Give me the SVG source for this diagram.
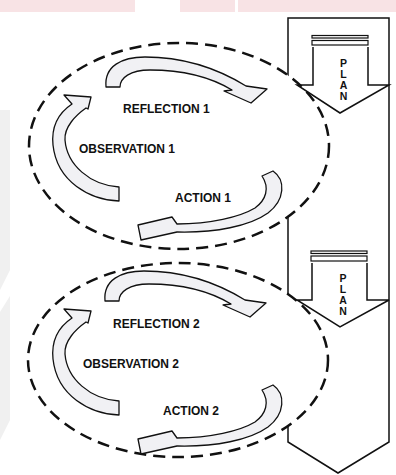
<svg xmlns="http://www.w3.org/2000/svg" width="396" height="475" viewBox="0 0 396 475">
<style>
.ln{fill:none;stroke:#111;stroke-width:1.5;stroke-linejoin:miter}
.col{fill:#fff;stroke:#111;stroke-width:1.5}
.ell{fill:#fff;stroke:#111;stroke-width:2.5;stroke-dasharray:12 7}
.arr{fill:#f1f1f4;stroke:#111;stroke-width:1.3;stroke-linejoin:round}
.lbl{font-family:"Liberation Sans",Arial,sans-serif;font-weight:bold;font-size:12px;fill:#111}
.pl{font-family:"Liberation Sans",Arial,sans-serif;font-weight:bold;font-size:10.5px;fill:#111;text-anchor:middle}
.bar{fill:#fff;stroke:#111;stroke-width:1.2}
.wm{fill:#f0f0f0}
</style>
<defs>
<path id="aTop" d="M106,87 C104,66 122,57 145,57 C185,57 220,70 246,86 L267,89 L251,103 L224,91 L232,90 C212,78 185,70 150,70 C130,70 120,78 120,87 Z"/>
<path id="aLeft" d="M119,187 L119,201 C90,200 57,182 53,145 C51,125 60,112 72,104 L64,95 L91,97 L88,109 L86,108 C76,115 64,127 65,140 C67,165 90,185 119,187 Z"/>
<path id="aBot" d="M262,176 L273,171 C286,180 285,200 268,213 C250,226 215,233 177,232 L141,240 L138,225 L172,217 L177,224 C210,224 240,217 255,208 C266,200 270,188 262,176 Z"/>
</defs>
<rect x="0" y="0" width="396" height="475" fill="#fff"/>
<g id="watermark">
<rect x="0" y="0" width="135" height="12" fill="#f8e3e5"/>
<rect x="180" y="0" width="55" height="12" fill="#f8e3e5"/>
<rect x="238" y="0" width="158" height="12" fill="#f8e3e5"/>
<polygon class="wm" points="0,110 10,110 10,270 0,290"/>
<polygon class="wm" points="0,312 10,296 10,420 0,440"/>
</g>
<g id="column">
<polygon class="col" points="288,18 389,18 389,442 338,473 288,442"/>
</g>
<g id="cycle1">
<ellipse class="ell" cx="179" cy="146" rx="150" ry="103"/>
</g>
<g id="cycle2">
<ellipse class="ell" cx="178" cy="360" rx="150" ry="97"/>
</g>
<g id="plan1">
<rect class="bar" x="312" y="35.5" width="56" height="2.5"/>
<rect class="bar" x="312" y="40.5" width="56" height="4.5"/>
<polyline class="ln" points="313,47 313,85 297,85 340,113 389,85 368,85 368,47"/>
<text class="pl" x="343.5" y="67">P</text>
<text class="pl" x="343.5" y="78">L</text>
<text class="pl" x="343.5" y="89">A</text>
<text class="pl" x="343.5" y="100">N</text>
</g>
<g id="plan2">
<rect class="bar" x="311" y="251" width="56" height="2.5"/>
<rect class="bar" x="311" y="256" width="56" height="5"/>
<polyline class="ln" points="312,263 312,300 297,300 340,327 389,300 367,300 367,263"/>
<text class="pl" x="343" y="282">P</text>
<text class="pl" x="343" y="293">L</text>
<text class="pl" x="343" y="304">A</text>
<text class="pl" x="343" y="315">N</text>
</g>
<g id="reflection1"><use href="#aTop" class="arr"/><text class="lbl" x="123" y="113">REFLECTION 1</text></g>
<g id="observation1"><use href="#aLeft" class="arr"/><text class="lbl" x="79" y="153">OBSERVATION 1</text></g>
<g id="action1"><use href="#aBot" class="arr"/><text class="lbl" x="175" y="202">ACTION 1</text></g>
<g id="reflection2"><use href="#aTop" class="arr" transform="translate(-1,214)"/><text class="lbl" x="113" y="328">REFLECTION 2</text></g>
<g id="observation2"><use href="#aLeft" class="arr" transform="translate(0,214)"/><text class="lbl" x="83" y="368">OBSERVATION 2</text></g>
<g id="action2"><use href="#aBot" class="arr" transform="translate(0,214)"/><text class="lbl" x="163" y="415">ACTION 2</text></g>
</svg>
